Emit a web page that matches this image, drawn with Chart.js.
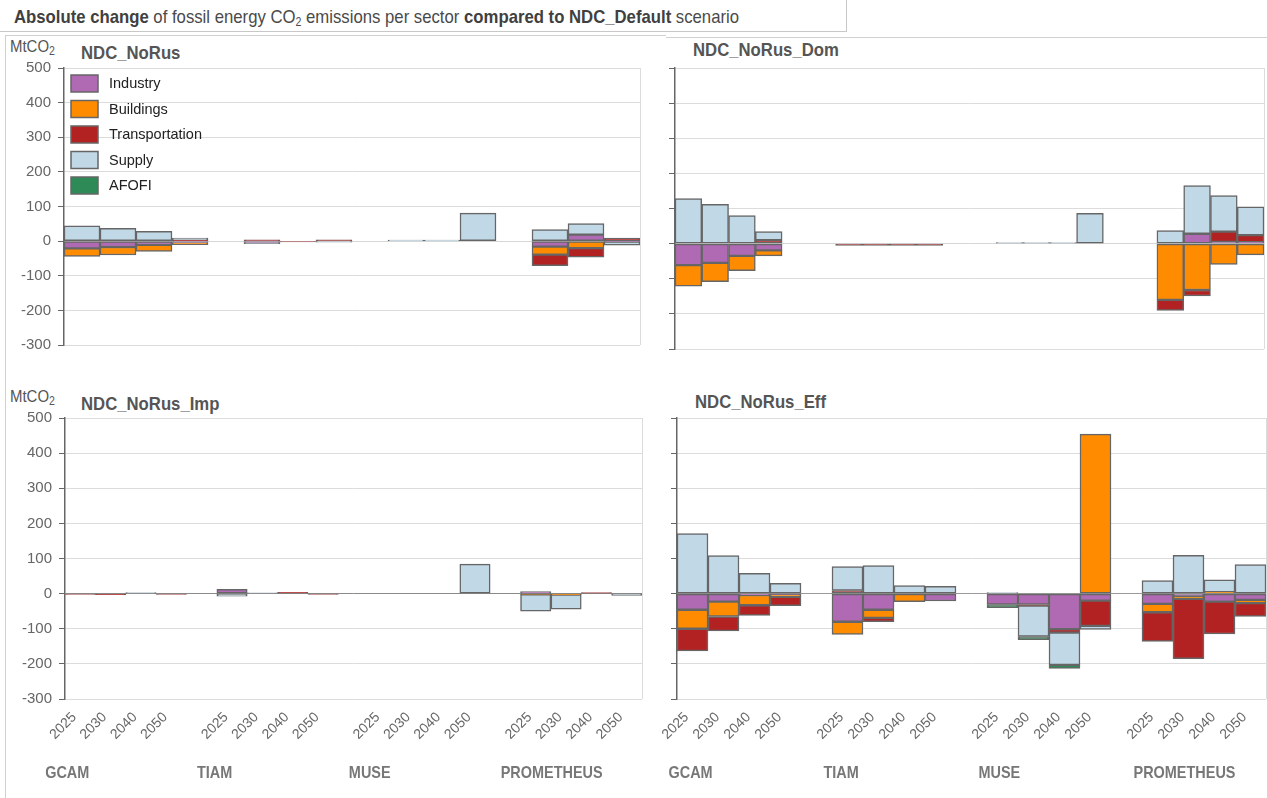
<!DOCTYPE html>
<html>
<head>
<meta charset="utf-8">
<script src="https://cdn.jsdelivr.net/npm/chart.js@4.4.1/dist/chart.umd.min.js"></script>
<style>
  html, body { margin: 0; padding: 0; background: #fff; }
  body { width: 1267px; height: 798px; position: relative; overflow: hidden;
         font-family: 'Liberation Sans', Arial, sans-serif; color: #555; }
  .abs { position: absolute; }
  .narrow { transform: scaleX(0.88); transform-origin: 0 0; }
  #titlebox { left: 0; top: 0; width: 847px; height: 32px; box-sizing: border-box;
              border-right: 1px solid #c8c8c8; border-bottom: 1px solid #c8c8c8; }
  #title { left: 14px; top: 6px; font-size: 19px; color: #4a4a4a; white-space: nowrap; }
  #title b { color: #404040; }
  sub { font-size: 12px; vertical-align: -3px; line-height: 0; }
  #frameLeft { left: 5px; top: 35px; width: 661px; height: 770px; box-sizing: border-box;
               border-left: 1px solid #d0d0d0; border-top: 1px solid #d0d0d0; }
  #frameRight { left: 666px; top: 37px; width: 601px; height: 2px; border-top: 1px solid #d0d0d0; }
  .unit { font-size: 17px; color: #555; white-space: nowrap; }
  .ptitle { font-size: 19px; font-weight: bold; color: #555; white-space: nowrap; }
  .wrap { position: absolute; }
</style>
</head>
<body>
<div id="titlebox" class="abs"></div>
<div id="title" class="abs narrow"><b>Absolute change</b> of fossil energy CO<sub>2</sub> emissions per sector <b>compared to NDC_Default</b> scenario</div>
<div id="frameLeft" class="abs"></div>
<div id="frameRight" class="abs"></div>

<div class="abs unit narrow" style="left:10px;top:37px;">MtCO<sub>2</sub></div>
<div class="abs ptitle narrow" style="left:81px;top:42px;">NDC_NoRus</div>
<div class="abs ptitle narrow" style="left:693px;top:39px;">NDC_NoRus_Dom</div>
<div class="abs unit narrow" style="left:10px;top:387px;">MtCO<sub>2</sub></div>
<div class="abs ptitle narrow" style="left:81px;top:393px;">NDC_NoRus_Imp</div>
<div class="abs ptitle narrow" style="left:695px;top:391px;">NDC_NoRus_Eff</div>

<div id="w1" class="wrap"><canvas id="c1"></canvas></div>
<div id="w2" class="wrap"><canvas id="c2"></canvas></div>
<div id="w3" class="wrap"><canvas id="c3"></canvas></div>
<div id="w4" class="wrap"><canvas id="c4"></canvas></div>

<script>
// ---- data (MtCO2, change vs NDC_Default) ----
const models = ['GCAM', 'TIAM', 'MUSE', 'PROMETHEUS'];
const years = ['2025', '2030', '2040', '2050'];
const sectors = ['Industry', 'Buildings', 'Transportation', 'Supply', 'AFOFI'];
const sectorColors = ['#b06ab3', '#ff8c00', '#b22222', '#c1d8e6', '#2e8b57'];
const yTicks = [-300, -200, -100, 0, 100, 200, 300, 400, 500];

// values ordered GCAM 2025..2050, TIAM 2025..2050, MUSE 2025..2050, PROMETHEUS 2025..2050
// NDC_NoRus
const noRusIndustry  = [-21, -17, -11, -4,   null, -4, 0, 0,    null, 0, 0, 0,    null, -16, 19, -1];
const noRusBuildings = [-23, -23, -19, -6,   null, 0, 0, 0,     null, 0, 0, 0,    null, -23, -20, 0];
const noRusTransport = [0, 0, 0, 3,          null, 4, -2, 4,    null, 0, 0, 0,    null, -32, -26, 9];
const noRusSupply    = [44, 37, 28, 6,       null, -3, 0, -3,   null, 3, 3, 81,   null, 33, 32, -11];
const noRusAfofi     = [0, 0, 0, 0,          null, 0, 0, 0,     null, 0, 0, 0,    null, 0, 0, 0];

// NDC_NoRus_Dom
const domIndustry  = [-61, -55, -35, -19,   0, 0, 0, 0,       0, 0, 0, 0,     0, 28, 5, 4];
const domBuildings = [-60, -53, -42, -16,   0, 0, 0, 0,       0, 0, 0, 0,     -160, -132, -59, -32];
const domTransport = [0, 0, 0, 10,          -5, -5, -5, -5,   0, 0, 0, 0,     -30, -17, 29, 20];
const domSupply    = [128, 112, 80, 24,     0, 0, 0, 0,       3, 3, 3, 86,    37, 137, 103, 81];
const domAfofi     = [0, 0, 0, 0,           0, 0, 0, 0,       0, 0, 0, 0,     0, 0, 0, 0];

// NDC_NoRus_Imp
const impIndustry  = [0, 0, 0, 0,      12, 0, 0, 0,    0, 0, 0, 0,    6, 0, 0, 0];
const impBuildings = [0, 0, 0, 0,      0, 0, 0, 0,     0, 0, 0, 0,    -2, -3, 0, 0];
const impTransport = [-2, -3, 0, -2,   0, 0, 4, -2,    0, 0, 0, 0,    0, 0, 3, 0];
const impSupply    = [0, 0, 3, 0,      -7, 2, 0, 0,    0, 0, 0, 84,   -48, -41, 0, -5];
const impAfofi     = [0, 0, 0, 0,      0, 0, 0, 0,     0, 0, 0, 0,    0, 0, 0, 0];

// NDC_NoRus_Eff
const effIndustry  = [-46, -23, -4, -2,    -80, -46, 0, -21,   -31, -31, -101, -20,   -29, -6, -23, -18];
const effBuildings = [-54, -42, -29, -7,   -36, -23, -23, 0,   0, 0, 0, 454,          -24, -9, 4, -9];
const effTransport = [-63, -41, -29, -25,  9, -11, 0, 0,       0, -3, -10, -72,       -83, -170, -92, -38];
const effSupply    = [171, 108, 58, 29,    68, 80, 23, 21,     3, -88, -92, -10,      37, 109, 35, 83];
const effAfofi     = [0, 0, 0, 0,          0, 0, 0, 0,         -9, -9, -10, 0,        0, 0, 0, 0];

// ---- helpers ----
const FONT = "'Liberation Sans', Arial, sans-serif";

// lay out model groups on the category axis, with `gap` empty slots between groups
function slotLabels(gap) {
  const out = [];
  models.forEach((m, mi) => {
    years.forEach(y => out.push(y));
    if (mi < models.length - 1) for (let g = 0; g < gap; g++) out.push('');
  });
  return out;
}
function slotValues(values, gap) {
  const out = [];
  models.forEach((m, mi) => {
    years.forEach((y, yi) => out.push(values[mi * years.length + yi]));
    if (mi < models.length - 1) for (let g = 0; g < gap; g++) out.push(null);
  });
  return out;
}
function groupStarts(gap) {
  return models.map((m, mi) => mi * (years.length + gap));
}

// legend drawn inside the plot area
const legendPlugin = {
  id: 'innerLegend',
  afterDraw(chart, args, opts) {
    if (!opts || !opts.show) return;
    const { ctx, chartArea } = chart;
    ctx.save();
    chart.data.datasets.forEach((ds, i) => {
      const x = chartArea.left + 7, y = chartArea.top + 7 + i * 25.5;
      ctx.fillStyle = ds.backgroundColor;
      ctx.fillRect(x, y, 27, 17);
      ctx.strokeStyle = '#666';
      ctx.lineWidth = 1.5;
      ctx.strokeRect(x, y, 27, 17);
      ctx.fillStyle = '#222';
      ctx.font = '14.5px ' + FONT;
      ctx.textBaseline = 'middle';
      ctx.textAlign = 'left';
      ctx.fillText(ds.label, chartArea.left + 45, y + 9);
    });
    ctx.restore();
  }
};

// model names under the year labels, set in a condensed width
const groupPlugin = {
  id: 'groupNames',
  afterDraw(chart, args, opts) {
    if (!opts || !opts.show) return;
    const { ctx, chartArea, scales } = chart;
    ctx.save();
    ctx.font = 'bold 17px ' + FONT;
    ctx.fillStyle = '#777';
    ctx.textBaseline = 'middle';
    ctx.textAlign = 'left';
    opts.starts.forEach((idx, i) => {
      ctx.save();
      ctx.translate(scales.x.getPixelForValue(idx) + opts.dx, chartArea.bottom + opts.dy);
      ctx.scale(0.85, 1);
      ctx.fillText(models[i], 0, 0);
      ctx.restore();
    });
    ctx.restore();
  }
};

// thin border on the right of the plot area
const rightEdgePlugin = {
  id: 'rightEdge',
  beforeDatasetsDraw(chart) {
    const { ctx, chartArea } = chart;
    ctx.save();
    ctx.strokeStyle = '#dcdcdc';
    ctx.lineWidth = 1;
    ctx.beginPath();
    ctx.moveTo(chartArea.right + 0.5, chartArea.top);
    ctx.lineTo(chartArea.right + 0.5, chartArea.bottom);
    ctx.stroke();
    ctx.restore();
  }
};

function makePanel(cfg) {
  const yW = cfg.yLabels ? cfg.area.left : 20;
  const padTop = 20, padRight = 8;
  const xH = cfg.xLabels ? 45 : 0;
  const padBottom = cfg.xLabels ? 45 : 12;
  const w = cfg.area.right - cfg.area.left;
  const h = cfg.area.bottom - cfg.area.top;
  const left = cfg.area.left - yW;
  const top = cfg.area.top - padTop;
  const W = yW + w + padRight, H = padTop + h + xH + padBottom;
  const wrap = document.getElementById(cfg.wrap);
  wrap.style.left = left + 'px';
  wrap.style.top = top + 'px';
  wrap.style.width = W + 'px';
  wrap.style.height = H + 'px';

  const labels = slotLabels(cfg.gap);
  const datasets = cfg.series.map((vals, i) => ({
    label: sectors[i],
    data: slotValues(vals, cfg.gap),
    backgroundColor: sectorColors[i],
    borderColor: '#666',
    borderWidth: 1.5,
    borderSkipped: false,
    barPercentage: 1,
    categoryPercentage: 1
  }));

  return new Chart(document.getElementById(cfg.canvas), {
    type: 'bar',
    data: { labels, datasets },
    plugins: [legendPlugin, groupPlugin, rightEdgePlugin],
    options: {
      responsive: true,
      maintainAspectRatio: false,
      animation: false,
      layout: { padding: { left: 0, top: padTop, right: padRight, bottom: padBottom } },
      plugins: {
        legend: { display: false },
        tooltip: { enabled: false },
        innerLegend: { show: !!cfg.legend },
        groupNames: { show: !!cfg.xLabels, starts: groupStarts(cfg.gap), dx: cfg.groupDx || -34, dy: 74 }
      },
      scales: {
        x: {
          stacked: true,
          display: !!cfg.xLabels,
          grid: { display: false },
          border: { display: false },
          ticks: {
            autoSkip: false, minRotation: 45, maxRotation: 45, padding: 2, labelOffset: -6,
            color: '#666', font: { family: FONT, size: 14 }
          },
          afterFit(s) { s.height = xH; }
        },
        y: {
          stacked: true,
          min: yTicks[0],
          max: yTicks[yTicks.length - 1],
          afterBuildTicks(s) { s.ticks = yTicks.map(v => ({ value: v })); },
          ticks: {
            display: !!cfg.yLabels, padding: 7,
            color: '#666', font: { family: FONT, size: 15 }
          },
          grid: {
            color: ctx => (ctx.tick && ctx.tick.value === 0) ? cfg.zeroColor : '#dcdcdc',
            lineWidth: 1,
            tickColor: '#666',
            tickLength: 6
          },
          border: { display: true, color: '#666', width: 1.5 },
          afterFit(s) { s.width = yW; }
        }
      }
    }
  });
}

makePanel({
  wrap: 'w1', canvas: 'c1', gap: 0, legend: true, yLabels: true, xLabels: false,
  area: { left: 64, right: 640, top: 68, bottom: 349 }, zeroColor: '#d6d6d6',
  series: [noRusIndustry, noRusBuildings, noRusTransport, noRusSupply, noRusAfofi]
});
makePanel({
  wrap: 'w2', canvas: 'c2', gap: 2, yLabels: false, xLabels: false,
  area: { left: 675, right: 1264, top: 68, bottom: 349 }, zeroColor: '#d6d6d6',
  series: [domIndustry, domBuildings, domTransport, domSupply, domAfofi]
});
makePanel({
  wrap: 'w3', canvas: 'c3', gap: 1, yLabels: true, xLabels: true, groupDx: -35,
  area: { left: 65, right: 642, top: 418, bottom: 699 }, zeroColor: '#8a8a8a',
  series: [impIndustry, impBuildings, impTransport, impSupply, impAfofi]
});
makePanel({
  wrap: 'w4', canvas: 'c4', gap: 1, yLabels: false, xLabels: true, groupDx: -24,
  area: { left: 677, right: 1266, top: 418, bottom: 699 }, zeroColor: '#9a9a9a',
  series: [effIndustry, effBuildings, effTransport, effSupply, effAfofi]
});
</script>
</body>
</html>
